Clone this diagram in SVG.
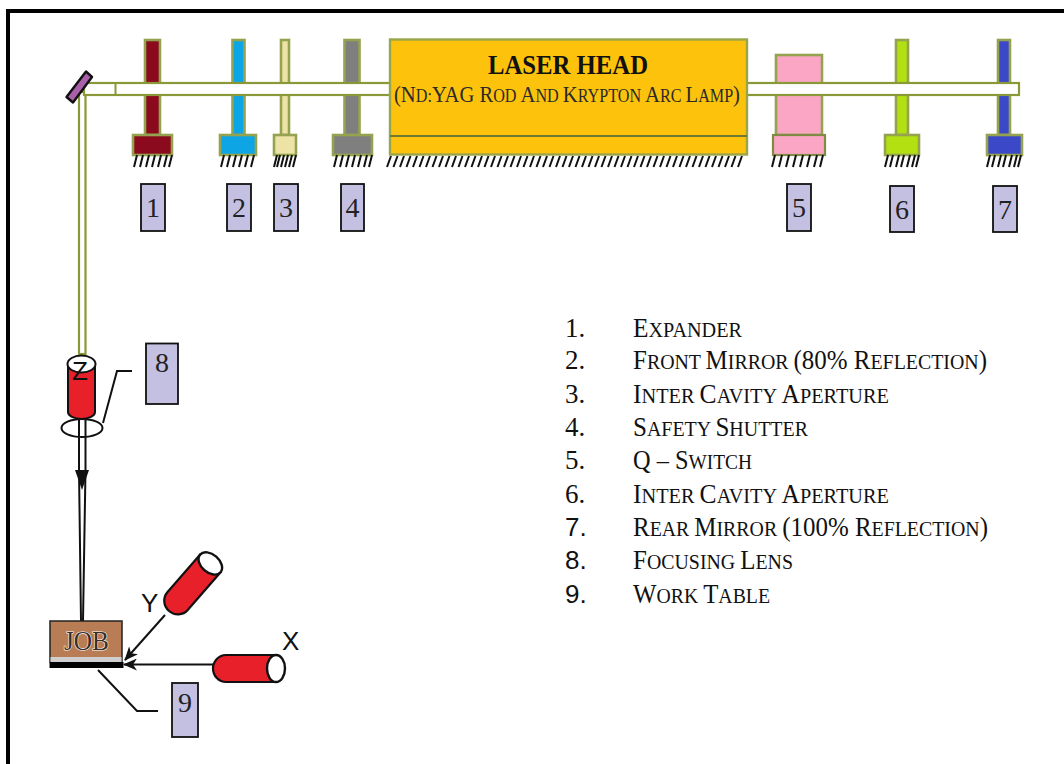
<svg xmlns="http://www.w3.org/2000/svg" width="1064" height="764" viewBox="0 0 1064 764">
<style>
.post{stroke:#95a350;stroke-width:2.600}
.tag{fill:#c4c0e2;stroke:#111;stroke-width:1.800}
.tagt{font-family:"Liberation Serif",serif;font-size:28px;fill:#222;text-anchor:middle}
.hat{stroke:#111;stroke-width:2;fill:none}
.li{font-family:"Liberation Serif",serif;font-size:21.500px;fill:#111}
.li tspan{font-size:27px}
.n{font-family:"Liberation Serif",serif;font-size:27px;fill:#111}
.a{font-family:"Liberation Sans",sans-serif;font-size:26px;fill:#111}
.b{stroke:#111;fill:none;stroke-width:2}
.beam{fill:#fff;stroke:#8a9838;stroke-width:2.200}
</style>
<defs>
<marker id="ah" viewBox="0 0 14 12" refX="13" refY="6" markerWidth="14" markerHeight="12" markerUnits="userSpaceOnUse" orient="auto"><path d="M0 0L14 6L0 12L4 6Z" fill="#111"/></marker>
<g id="cyl"><path d="M13 -13.500H63V13.500H13A13 13.500 0 0 1 13 -13.500Z" fill="#e8202a" stroke="#111" stroke-width="2.200"/><ellipse cx="63" cy="0" rx="9" ry="13.500" fill="#fff" stroke="#111" stroke-width="2.400"/></g>
</defs>
<rect width="1064" height="764" fill="#fff"/>
<path d="M8 764V11H1064" fill="none" stroke="#000" stroke-width="4"/>

<g id="node-1"><rect class="post" x="145" y="40" width="15" height="95" fill="#8b0a1e"/><rect class="post" x="133" y="135" width="39" height="20" fill="#8b0a1e"/><path class="hat" d="M137 155l-3 12M143 155l-3 12M149 155l-3 12M155 155l-3 12M161 155l-3 12M167 155l-3 12M172 155l-3 12"/><rect class="tag" x="141" y="184" width="24" height="47"/><text class="tagt" x="153" y="217">1</text></g>
<g id="node-2"><rect class="post" x="232.500" y="40" width="12" height="95" fill="#0ea5e4"/><rect class="post" x="220" y="135" width="36" height="20" fill="#0ea5e4"/><path class="hat" d="M224 155l-3 12M230 155l-3 12M236 155l-3 12M242 155l-3 12M248 155l-3 12M254 155l-3 12"/><rect class="tag" x="227" y="184" width="24" height="47"/><text class="tagt" x="239" y="217">2</text></g>
<g id="node-3"><rect class="post" x="281" y="40" width="8" height="95" fill="#eee3a6"/><rect class="post" x="274" y="135" width="22" height="20" fill="#eee3a6"/><path class="hat" d="M277 155l-3 12M280 155l-3 12M284 155l-3 12M288 155l-3 12M292 155l-3 12M296 155l-3 12"/><rect class="tag" x="274" y="184" width="24" height="47"/><text class="tagt" x="286" y="217">3</text></g>
<g id="node-4"><rect class="post" x="344.500" y="40" width="15" height="95" fill="#7f7f7f"/><rect class="post" x="333" y="135" width="39" height="20" fill="#7f7f7f"/><path class="hat" d="M337 155l-3 12M343 155l-3 12M349 155l-3 12M355 155l-3 12M361 155l-3 12M367 155l-3 12M372 155l-3 12"/><rect class="tag" x="341" y="184" width="23" height="47"/><text class="tagt" x="352.500" y="217">4</text></g>
<g id="node-5"><rect class="post" x="776" y="55" width="46" height="80" fill="#fba6c4"/><rect x="773" y="135" width="52" height="20" fill="#fba6c4" stroke="#7f8a44" stroke-width="2.200"/><path class="hat" d="M775 155l-3 12M782 155l-3 12M789 155l-3 12M796 155l-3 12M803 155l-3 12M810 155l-3 12M817 155l-3 12M823 155l-3 12"/><rect class="tag" x="787" y="184" width="24" height="47"/><text class="tagt" x="799" y="217">5</text></g>
<g id="node-6"><rect class="post" x="896" y="40" width="12" height="95" fill="#b2e010"/><rect class="post" x="885" y="135" width="34" height="20" fill="#b2e010"/><path class="hat" d="M888 155l-3 12M893 155l-3 12M899 155l-3 12M904 155l-3 12M910 155l-3 12M915 155l-3 12M919 155l-3 12"/><rect class="tag" x="890" y="186" width="24" height="46"/><text class="tagt" x="902" y="219">6</text></g>
<g id="node-7"><rect class="post" x="998" y="40" width="12" height="95" fill="#3b48c8"/><rect class="post" x="987" y="135" width="35" height="20" fill="#3b48c8"/><path class="hat" d="M990 155l-3 12M995 155l-3 12M1001 155l-3 12M1006 155l-3 12M1012 155l-3 12M1017 155l-3 12M1021 155l-3 12"/><rect class="tag" x="993" y="186" width="24" height="46"/><text class="tagt" x="1005" y="219">7</text></g>

<g id="beam">
<rect class="beam" x="79" y="92" width="6.500" height="262"/>
<rect class="beam" x="84" y="83" width="935" height="12"/>
<path d="M115.500 83V95" stroke="#8a9838" stroke-width="2"/>
<path d="M66.500 97L73 102.500L92 77L86 71.500Z" fill="#a860a8" stroke="#111" stroke-width="2.400" stroke-linejoin="round"/>
</g>

<g id="laser-head">
<rect x="390" y="39.500" width="357" height="115" fill="#fdc30c" stroke="#9aa54a" stroke-width="2.400"/>
<path d="M390 136H747" stroke="#6f7a30" stroke-width="2"/>
<path class="hat" d="M391 156l-4 11M397.500 156l-4 11M404 156l-4 11M410.500 156l-4 11M417 156l-4 11M423.500 156l-4 11M430 156l-4 11M436.500 156l-4 11M443 156l-4 11M449.500 156l-4 11M456 156l-4 11M462.500 156l-4 11M469 156l-4 11M475.500 156l-4 11M482 156l-4 11M488.500 156l-4 11M495 156l-4 11M501.500 156l-4 11M508 156l-4 11M514.500 156l-4 11M521 156l-4 11M527.500 156l-4 11M534 156l-4 11M540.500 156l-4 11M547 156l-4 11M553.500 156l-4 11M560 156l-4 11M566.500 156l-4 11M573 156l-4 11M579.500 156l-4 11M586 156l-4 11M592.500 156l-4 11M599 156l-4 11M605.500 156l-4 11M612 156l-4 11M618.500 156l-4 11M625 156l-4 11M631.500 156l-4 11M638 156l-4 11M644.500 156l-4 11M651 156l-4 11M657.500 156l-4 11M664 156l-4 11M670.500 156l-4 11M677 156l-4 11M683.500 156l-4 11M690 156l-4 11M696.500 156l-4 11M703 156l-4 11M709.500 156l-4 11M716 156l-4 11M722.500 156l-4 11M729 156l-4 11M735.500 156l-4 11M742 156l-4 11"/>
<text x="488" y="74" font-family="'Liberation Serif',serif" font-weight="700" font-size="28" fill="#111" textLength="160" lengthAdjust="spacingAndGlyphs">LASER HEAD</text>
<text x="394" y="102" font-family="'Liberation Serif',serif" font-size="18px" fill="#2a2a2a" textLength="346" lengthAdjust="spacingAndGlyphs"><tspan font-size="23">(N</tspan>D:<tspan font-size="23">YAG R</tspan>OD <tspan font-size="23">A</tspan>ND <tspan font-size="23">K</tspan>RYPTON <tspan font-size="23">A</tspan>RC <tspan font-size="23">L</tspan>AMP<tspan font-size="23">)</tspan></text>
</g>

<g id="node-8">
<path d="M68 364V412A13.500 7 0 0 0 95 412V364Z" fill="#e8202a" stroke="#111" stroke-width="2"/>
<ellipse cx="81.500" cy="364" rx="14" ry="8.500" fill="#fff" stroke="#111" stroke-width="2"/>
<text class="a" x="72" y="380">Z</text>
<ellipse cx="82" cy="428" rx="20.500" ry="9" fill="none" stroke="#111" stroke-width="2"/>
<path class="b" d="M103 423L117 371H132"/>
<rect class="tag" x="146" y="343.500" width="32" height="60.500"/>
<text class="tagt" x="162" y="372">8</text>
</g>

<g id="connectors">
<path class="b" d="M79 420V470L81 621M85.500 420V470L83 621" stroke-width="2.200"/>
<path d="M75 470H89L82 490Z" fill="#111"/>
<path class="b" d="M165 615L125 660" marker-end="url(#ah)"/>
<path class="b" d="M213 664.500H124" marker-end="url(#ah)"/>
<path class="b" d="M98 670L137 711H158"/>
</g>

<g id="node-job">
<rect x="50" y="621" width="72" height="41" fill="#b87d55" stroke="#222" stroke-width="1.500"/>
<rect x="50.500" y="657" width="71" height="5" fill="#cfcfcf"/>
<rect x="49.500" y="662" width="74" height="6" fill="#000"/>
<text x="64" y="650" font-family="'Liberation Serif',serif" font-size="27px" fill="#3a2c28" stroke="#fff" stroke-width="1.200" paint-order="stroke" textLength="45" lengthAdjust="spacingAndGlyphs">JOB</text>
</g>

<g id="node-9"><rect class="tag" x="172" y="683" width="26" height="54"/><text class="tagt" x="185" y="712">9</text></g>

<g id="axis-x"><use href="#cyl" x="213" y="668.500"/><text class="a" x="282" y="650">X</text></g>
<g id="axis-y"><use href="#cyl" transform="translate(169 611) rotate(-49)"/><text class="a" x="141" y="612">Y</text></g>

<g id="legend">
<text class="n" x="565" y="337">1.</text><text class="n" x="565" y="369">2.</text><text class="n" x="565" y="403">3.</text><text class="n" x="565" y="436">4.</text><text class="n" x="565" y="469">5.</text><text class="n" x="565" y="503">6.</text>
<text class="a" x="565" y="536">7.</text><text class="a" x="565" y="569">8.</text><text class="a" x="565" y="603">9.</text>
<text class="li" x="633" y="337" textLength="109" lengthAdjust="spacingAndGlyphs"><tspan>E</tspan>XPANDER</text>
<text class="li" x="633" y="369" textLength="354" lengthAdjust="spacingAndGlyphs"><tspan>F</tspan>RONT <tspan>M</tspan>IRROR <tspan>(80% R</tspan>EFLECTION<tspan>)</tspan></text>
<text class="li" x="633" y="403" textLength="256" lengthAdjust="spacingAndGlyphs"><tspan>I</tspan>NTER <tspan>C</tspan>AVITY <tspan>A</tspan>PERTURE</text>
<text class="li" x="633" y="436" textLength="175" lengthAdjust="spacingAndGlyphs"><tspan>S</tspan>AFETY <tspan>S</tspan>HUTTER</text>
<text class="li" x="633" y="469" textLength="119" lengthAdjust="spacingAndGlyphs"><tspan>Q – S</tspan>WITCH</text>
<text class="li" x="633" y="503" textLength="256" lengthAdjust="spacingAndGlyphs"><tspan>I</tspan>NTER <tspan>C</tspan>AVITY <tspan>A</tspan>PERTURE</text>
<text class="li" x="633" y="536" textLength="355" lengthAdjust="spacingAndGlyphs"><tspan>R</tspan>EAR <tspan>M</tspan>IRROR <tspan>(100% R</tspan>EFLECTION<tspan>)</tspan></text>
<text class="li" x="633" y="569" textLength="160" lengthAdjust="spacingAndGlyphs"><tspan>F</tspan>OCUSING <tspan>L</tspan>ENS</text>
<text class="li" x="633" y="603" textLength="137" lengthAdjust="spacingAndGlyphs"><tspan>W</tspan>ORK <tspan>T</tspan>ABLE</text>
</g>
</svg>
